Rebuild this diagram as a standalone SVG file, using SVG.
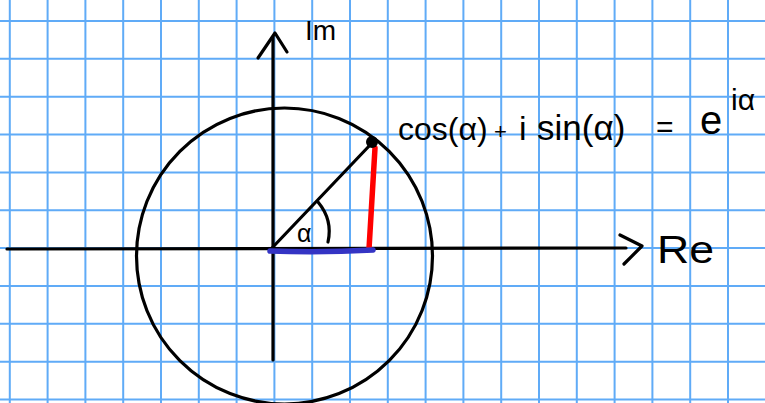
<svg xmlns="http://www.w3.org/2000/svg" width="765" height="403" viewBox="0 0 765 403">
<style>
.grid{stroke:#4fa3f7;stroke-width:2;fill:none;opacity:0.9}
.ink{stroke:#000;stroke-width:3.2;fill:none;stroke-linecap:round;stroke-linejoin:round}
.hand{font-family:"Liberation Sans","DejaVu Sans",sans-serif;fill:#000}
</style>
<rect width="765" height="403" fill="#fff"/>
<g id="grid" class="grid">
<path d="M9.8,0V403M47.6,0V403M85.4,0V403M123.2,0V403M161,0V403M198.8,0V403M236.6,0V403M274.4,0V403M312.2,0V403M350,0V403M387.8,0V403M425.6,0V403M463.4,0V403M501.2,0V403M539,0V403M576.8,0V403M614.6,0V403M652.4,0V403M690.2,0V403M728,0V403"/>
<path d="M0,21H765M0,58.85H765M0,96.7H765M0,134.55H765M0,172.4H765M0,210.25H765M0,248.1H765M0,285.95H765M0,323.8H765M0,361.65H765M0,399.5H765"/>
</g>
<g id="connectors">
<path id="x-axis" class="ink" d="M7,249 L626,248"/>
<path id="x-arrow" class="ink" d="M620,235 L642,246 L624,264"/>
<path id="y-axis" class="ink" d="M273,360 L273,37"/>
<path id="y-arrow" class="ink" d="M258,58 L275,33 L287,52"/>
</g>
<g id="circle">
<circle class="ink" cx="284.5" cy="256" r="148"/>
</g>
<g id="radius">
<path class="ink" d="M272,248 L371,144"/>
<path class="ink" d="M318,202 Q333,220 328,242" stroke-width="3"/>
</g>
<g id="sin-line">
<path d="M375,148 L369,249" stroke="#f00" stroke-width="5.5" stroke-linecap="round" fill="none"/>
</g>
<g id="cos-line">
<path d="M270,251 Q320,253 373,250" stroke="#3434c4" stroke-width="5.5" stroke-linecap="round" fill="none"/>
</g>
<g id="point">
<circle cx="372" cy="142" r="6" fill="#000"/>
</g>
<g id="labels">
<text class="hand" x="297" y="242" font-size="25">α</text>
<text class="hand" x="305" y="40" font-size="28">Im</text>
<text class="hand" x="657" y="263" font-size="38" textLength="57" lengthAdjust="spacingAndGlyphs">Re</text>
<text class="hand" x="398" y="140" font-size="32">cos(α)</text>
<text class="hand" x="494" y="139" font-size="22">+</text>
<text class="hand" x="519" y="140" font-size="34">i</text>
<text class="hand" x="537" y="140" font-size="35">sin(α)</text>
<text class="hand" x="656" y="137" font-size="30">=</text>
<text class="hand" x="700" y="134" font-size="40">e</text>
<text class="hand" x="731" y="110" font-size="30">iα</text>
</g>
</svg>
